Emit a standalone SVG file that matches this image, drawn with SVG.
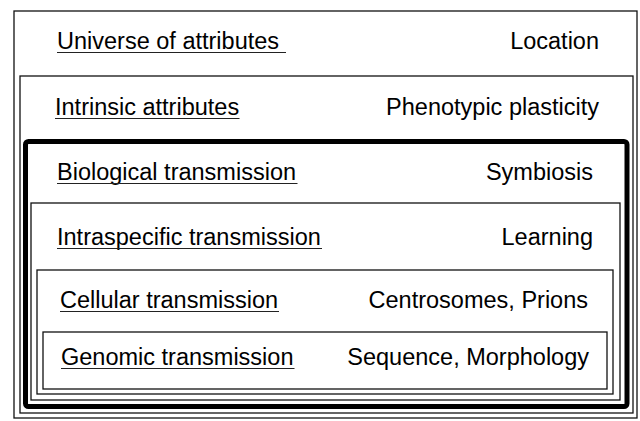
<svg xmlns="http://www.w3.org/2000/svg" width="640" height="421" viewBox="0 0 640 421">
<style>
.box{fill:none;stroke:#111;stroke-width:1.3}
.thick{fill:none;stroke:#000;stroke-width:5}
.ul{stroke:#222;stroke-width:1.2}
text{font-family:"Liberation Sans",Arial,sans-serif;font-size:23.5px;fill:#000}
.r{text-anchor:end}
</style>
<rect width="640" height="421" fill="#fff"/>
<g id="universe">
<rect class="box" x="14" y="11" width="623" height="407" stroke="#333"/>
<text x="57" y="49">Universe of attributes</text>
<line class="ul" x1="57" y1="52.5" x2="286" y2="52.5"/>
<text class="r" x="599" y="49">Location</text>
</g>
<g id="intrinsic">
<rect class="box" x="20" y="76" width="613" height="337"/>
<text x="55" y="115">Intrinsic attributes</text>
<line class="ul" x1="55" y1="118.5" x2="239.5" y2="118.5"/>
<text class="r" x="599" y="115">Phenotypic plasticity</text>
</g>
<g id="biological">
<rect class="thick" x="25.5" y="141.5" width="601.5" height="265" rx="3"/>
<text x="57" y="180">Biological transmission</text>
<line class="ul" x1="57" y1="183.5" x2="297.5" y2="183.5"/>
<text class="r" x="593" y="180">Symbiosis</text>
</g>
<g id="intraspecific">
<rect class="box" x="31" y="203" width="589" height="197"/>
<text x="57" y="245">Intraspecific transmission</text>
<line class="ul" x1="57" y1="248.5" x2="322" y2="248.5"/>
<text class="r" x="593" y="245">Learning</text>
</g>
<g id="cellular">
<rect class="box" x="37" y="270" width="576" height="124"/>
<text x="60" y="308">Cellular transmission</text>
<line class="ul" x1="60" y1="311.5" x2="279" y2="311.5"/>
<text class="r" x="588" y="308">Centrosomes, Prions</text>
</g>
<g id="genomic">
<rect class="box" x="43" y="332" width="564" height="57"/>
<text x="61" y="365">Genomic transmission</text>
<line class="ul" x1="61" y1="368.5" x2="294.5" y2="368.5"/>
<text class="r" x="589" y="365">Sequence, Morphology</text>
</g>
<g id="connectors"/>
</svg>
